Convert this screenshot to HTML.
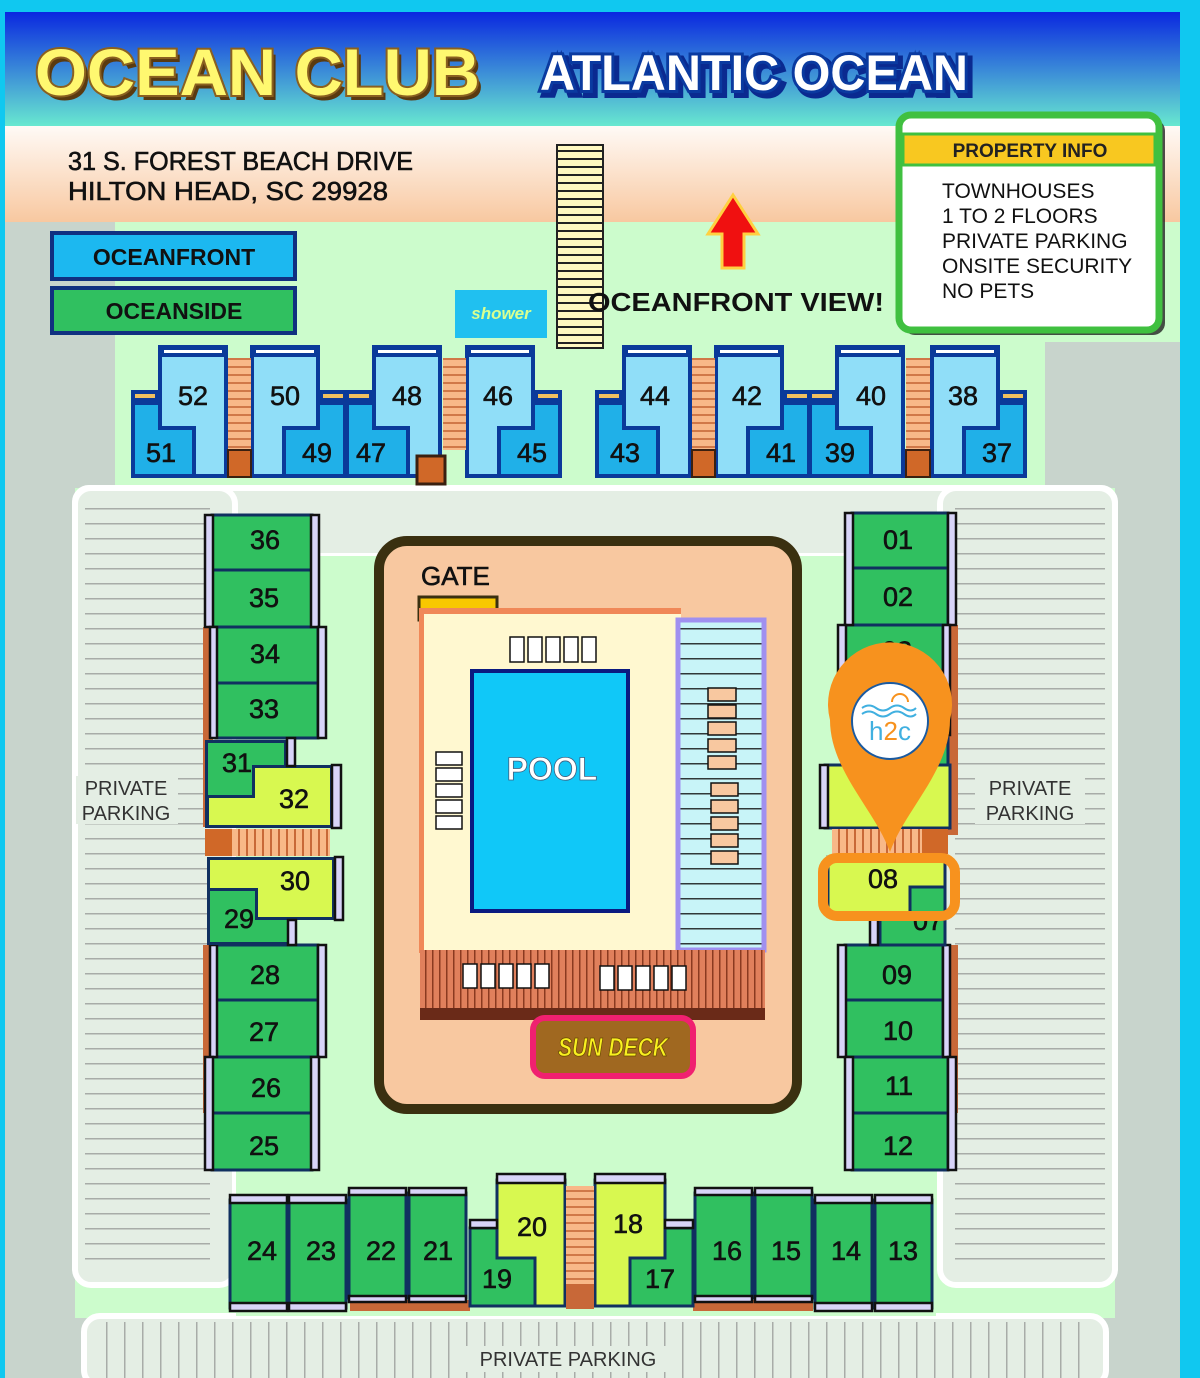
<!DOCTYPE html>
<html><head><meta charset="utf-8">
<style>
html,body{margin:0;padding:0;background:#10c8f0;}
svg{display:block}
text{font-family:"Liberation Sans",sans-serif;}
.n{font-size:27px;fill:#111;text-anchor:middle;stroke:#111;stroke-width:.6}
</style></head><body>
<svg width="1200" height="1378" viewBox="0 0 1200 1378" xmlns="http://www.w3.org/2000/svg">
<defs>
<linearGradient id="hdr" x1="0" y1="0" x2="0" y2="1"><stop offset="0" stop-color="#0a28e0"/><stop offset="1" stop-color="#68e8d0"/></linearGradient>
<linearGradient id="peach" x1="0" y1="0" x2="0" y2="1"><stop offset="0" stop-color="#fffaf6"/><stop offset="1" stop-color="#f8c8a0"/></linearGradient>
<pattern id="stH" width="10" height="8" patternUnits="userSpaceOnUse"><rect width="10" height="8" fill="#f8b888"/><rect y="6" width="10" height="2" fill="#d07848"/></pattern>
<pattern id="stV" width="8" height="10" patternUnits="userSpaceOnUse"><rect width="8" height="10" fill="#f8b888"/><rect x="6" width="2" height="10" fill="#c86838"/></pattern>
<pattern id="deck" width="7" height="10" patternUnits="userSpaceOnUse"><rect width="7" height="10" fill="#e0805c"/><rect x="5" width="1.5" height="10" fill="#8a3a20"/></pattern>
<pattern id="pkH" width="10" height="15" patternUnits="userSpaceOnUse"><rect width="10" height="15" fill="#e4eee4"/><rect y="13" width="10" height="1.5" fill="#a8aca8"/></pattern>
<pattern id="pkV" width="18" height="10" patternUnits="userSpaceOnUse"><rect width="18" height="10" fill="#e4eee4"/><rect x="16" width="1.5" height="10" fill="#a8aca8"/></pattern>
<pattern id="lng" width="10" height="15" patternUnits="userSpaceOnUse"><rect width="10" height="15" fill="#c8f4f8"/><rect y="13" width="10" height="1.5" fill="#303838"/></pattern>
<pattern id="brd" width="10" height="8" patternUnits="userSpaceOnUse"><rect width="10" height="8" fill="#fff8c0"/><rect y="6" width="10" height="2" fill="#222"/></pattern>
</defs>

<!-- background -->
<rect x="0" y="0" width="1200" height="1378" fill="#10c8f0"/>
<rect x="5" y="12" width="1175" height="1366" fill="#c8d4cc"/>
<rect x="5" y="12" width="1175" height="114" fill="url(#hdr)"/>
<rect x="5" y="126" width="1175" height="96" fill="url(#peach)"/>
<rect x="115" y="222" width="1065" height="120" fill="#ccfccc"/>
<rect x="115" y="340" width="930" height="150" fill="#ccfccc"/>
<rect x="75" y="488" width="1040" height="830" fill="#ccfccc"/>

<!-- header text -->
<text x="39" y="100" font-size="66" font-weight="bold" fill="#5a3a10" textLength="445" lengthAdjust="spacingAndGlyphs">OCEAN CLUB</text>
<text x="35" y="95" font-size="66" font-weight="bold" fill="#fff870" stroke="#8a6020" stroke-width="4" paint-order="stroke" textLength="445" lengthAdjust="spacingAndGlyphs">OCEAN CLUB</text>
<text x="544" y="94" font-size="50" font-weight="bold" fill="#0a2a90" stroke="#0a2a90" stroke-width="8" textLength="428" lengthAdjust="spacingAndGlyphs">ATLANTIC OCEAN</text>
<text x="540" y="90" font-size="50" font-weight="bold" fill="#fff" stroke="#0a3aa0" stroke-width="6" paint-order="stroke" textLength="428" lengthAdjust="spacingAndGlyphs">ATLANTIC OCEAN</text>

<!-- address -->
<text x="68" y="170" font-size="26" fill="#111" stroke="#111" stroke-width=".6" textLength="345" lengthAdjust="spacingAndGlyphs">31 S. FOREST BEACH DRIVE</text>
<text x="68" y="200" font-size="26" fill="#111" stroke="#111" stroke-width=".6" textLength="320" lengthAdjust="spacingAndGlyphs">HILTON HEAD, SC  29928</text>

<!-- legend -->
<rect x="52" y="233" width="243" height="46" fill="#1cb8f0" stroke="#103080" stroke-width="4"/>
<text x="174" y="265" font-size="23" font-weight="bold" text-anchor="middle" fill="#111">OCEANFRONT</text>
<rect x="52" y="288" width="243" height="45" fill="#30c060" stroke="#103080" stroke-width="4"/>
<text x="174" y="319" font-size="23" font-weight="bold" text-anchor="middle" fill="#111">OCEANSIDE</text>

<!-- shower -->
<rect x="455" y="290" width="92" height="48" fill="#20c0f0"/>
<text x="501" y="319" font-size="17" font-style="italic" font-weight="bold" text-anchor="middle" fill="#d8ff90">shower</text>

<!-- boardwalk -->
<rect x="557" y="145" width="46" height="203" fill="url(#brd)" stroke="#222" stroke-width="2"/>

<!-- arrow -->
<path d="M733,195 L758,234 L744,234 L744,268 L722,268 L722,234 L708,234 Z" fill="#f01010" stroke="#ffd040" stroke-width="3"/>
<text x="588" y="311" font-size="26" font-weight="bold" fill="#111" textLength="296" lengthAdjust="spacingAndGlyphs">OCEANFRONT VIEW!</text>

<!-- property info -->
<rect x="903" y="119" width="262" height="216" rx="12" fill="#222" opacity=".8"/>
<rect x="899" y="115" width="260" height="215" rx="12" fill="#fff" stroke="#40c040" stroke-width="7"/>
<rect x="903" y="134" width="252" height="31" fill="#f8c820" stroke="#40c040" stroke-width="3"/>
<text x="1030" y="157" font-size="19" font-weight="bold" text-anchor="middle" fill="#222">PROPERTY INFO</text>
<g font-size="21" fill="#111">
<text x="942" y="198">TOWNHOUSES</text>
<text x="942" y="223">1 TO 2 FLOORS</text>
<text x="942" y="248">PRIVATE PARKING</text>
<text x="942" y="273">ONSITE SECURITY</text>
<text x="942" y="298">NO PETS</text>
</g>

<!-- road band & parking -->
<rect x="75" y="488" width="1040" height="68" rx="14" fill="#e4eee4" stroke="#fff" stroke-width="6"/>
<rect x="75" y="488" width="160" height="797" rx="16" fill="#e4eee4" stroke="#fff" stroke-width="6"/>
<rect x="85" y="500" width="125" height="770" fill="url(#pkH)"/>
<rect x="940" y="488" width="175" height="797" rx="16" fill="#e4eee4" stroke="#fff" stroke-width="6"/>
<rect x="955" y="500" width="150" height="770" fill="url(#pkH)"/>
<rect x="84" y="1316" width="1022" height="70" rx="16" fill="#e4eee4" stroke="#fff" stroke-width="6"/>
<rect x="95" y="1322" width="1000" height="60" fill="url(#pkV)"/>
<g font-size="20" fill="#333">
<text x="126" y="795" text-anchor="middle" fill="#333">PRIVATE</text>
<text x="126" y="820" text-anchor="middle">PARKING</text>
<rect x="975" y="776" width="110" height="48" fill="#e4eee4"/>
<rect x="76" y="776" width="102" height="48" fill="#e4eee4"/>
<text x="126" y="795" text-anchor="middle">PRIVATE</text>
<text x="126" y="820" text-anchor="middle">PARKING</text>
<text x="1030" y="795" text-anchor="middle">PRIVATE</text>
<text x="1030" y="820" text-anchor="middle">PARKING</text>
<rect x="462" y="1346" width="212" height="26" fill="#e4eee4"/>
<text x="568" y="1366" text-anchor="middle">PRIVATE PARKING</text>
</g>
<rect x="75" y="555" width="1040" height="0" fill="none"/>
<rect x="236" y="556" width="700" height="760" fill="#ccfccc"/>

<!-- top oceanfront units -->
<!-- A-block template inline -->
<g transform="translate(131,345)">
<path d="M0,45H27V0H97V133H0Z" fill="#0a3a9a"/><path d="M31,12H93V129H65V81H31Z" fill="#90def8"/><path d="M4,60H27V85H61V129H4Z" fill="#20b0e8"/>
<rect x="4" y="49" width="20" height="4" fill="#f0c060"/><rect x="33" y="5" width="58" height="3" fill="#fff"/>
<text class="n" x="62" y="60">52</text><text class="n" x="30" y="117">51</text></g>
<g transform="translate(250,345)">
<path d="M97,45H70V0H0V133H97Z" fill="#0a3a9a"/><path d="M66,12H4V129H32V81H66Z" fill="#90def8"/><path d="M93,60H70V85H36V129H93Z" fill="#20b0e8"/>
<rect x="73" y="49" width="20" height="4" fill="#f0c060"/><rect x="6" y="5" width="58" height="3" fill="#fff"/>
<text class="n" x="35" y="60">50</text><text class="n" x="67" y="117">49</text></g>
<g transform="translate(345,345)">
<path d="M0,45H27V0H97V133H0Z" fill="#0a3a9a"/><path d="M31,12H93V129H65V81H31Z" fill="#90def8"/><path d="M4,60H27V85H61V129H4Z" fill="#20b0e8"/>
<rect x="4" y="49" width="20" height="4" fill="#f0c060"/><rect x="33" y="5" width="58" height="3" fill="#fff"/>
<text class="n" x="62" y="60">48</text><text class="n" x="26" y="117">47</text></g>
<g transform="translate(465,345)">
<path d="M97,45H70V0H0V133H97Z" fill="#0a3a9a"/><path d="M66,12H4V129H32V81H66Z" fill="#90def8"/><path d="M93,60H70V85H36V129H93Z" fill="#20b0e8"/>
<rect x="73" y="49" width="20" height="4" fill="#f0c060"/><rect x="6" y="5" width="58" height="3" fill="#fff"/>
<text class="n" x="33" y="60">46</text><text class="n" x="67" y="117">45</text></g>
<g transform="translate(595,345)">
<path d="M0,45H27V0H97V133H0Z" fill="#0a3a9a"/><path d="M31,12H93V129H65V81H31Z" fill="#90def8"/><path d="M4,60H27V85H61V129H4Z" fill="#20b0e8"/>
<rect x="4" y="49" width="20" height="4" fill="#f0c060"/><rect x="33" y="5" width="58" height="3" fill="#fff"/>
<text class="n" x="60" y="60">44</text><text class="n" x="30" y="117">43</text></g>
<g transform="translate(714,345)">
<path d="M97,45H70V0H0V133H97Z" fill="#0a3a9a"/><path d="M66,12H4V129H32V81H66Z" fill="#90def8"/><path d="M93,60H70V85H36V129H93Z" fill="#20b0e8"/>
<rect x="73" y="49" width="20" height="4" fill="#f0c060"/><rect x="6" y="5" width="58" height="3" fill="#fff"/>
<text class="n" x="33" y="60">42</text><text class="n" x="67" y="117">41</text></g>
<g transform="translate(808,345)">
<path d="M0,45H27V0H97V133H0Z" fill="#0a3a9a"/><path d="M31,12H93V129H65V81H31Z" fill="#90def8"/><path d="M4,60H27V85H61V129H4Z" fill="#20b0e8"/>
<rect x="4" y="49" width="20" height="4" fill="#f0c060"/><rect x="33" y="5" width="58" height="3" fill="#fff"/>
<text class="n" x="63" y="60">40</text><text class="n" x="32" y="117">39</text></g>
<g transform="translate(930,345)">
<path d="M97,45H70V0H0V133H97Z" fill="#0a3a9a"/><path d="M66,12H4V129H32V81H66Z" fill="#90def8"/><path d="M93,60H70V85H36V129H93Z" fill="#20b0e8"/>
<rect x="73" y="49" width="20" height="4" fill="#f0c060"/><rect x="6" y="5" width="58" height="3" fill="#fff"/>
<text class="n" x="33" y="60">38</text><text class="n" x="67" y="117">37</text></g>
<!-- top stairs -->
<rect x="228" y="358" width="23" height="92" fill="url(#stH)"/><rect x="228" y="450" width="23" height="27" fill="#d06828" stroke="#3a2010" stroke-width="2"/>
<rect x="443" y="358" width="23" height="92" fill="url(#stH)"/><rect x="417" y="456" width="28" height="28" fill="#d06828" stroke="#3a2010" stroke-width="3"/>
<rect x="692" y="358" width="23" height="92" fill="url(#stH)"/><rect x="692" y="450" width="23" height="27" fill="#d06828" stroke="#3a2010" stroke-width="2"/>
<rect x="906" y="358" width="24" height="92" fill="url(#stH)"/><rect x="906" y="450" width="24" height="27" fill="#d06828" stroke="#3a2010" stroke-width="2"/>

<!-- left column units -->
<rect x="203" y="627" width="10" height="200" fill="#c86838"/>
<rect x="203" y="945" width="10" height="168" fill="#c86838"/>
<g stroke="#103060" stroke-width="3">
<rect x="212" y="515" width="100" height="55" fill="#30c060"/><rect x="212" y="570" width="100" height="57" fill="#30c060"/>
<rect x="216" y="627" width="102" height="56" fill="#30c060"/><rect x="216" y="683" width="102" height="55" fill="#30c060"/>
<rect x="216" y="945" width="102" height="55" fill="#30c060"/><rect x="216" y="1000" width="102" height="57" fill="#30c060"/>
<rect x="212" y="1057" width="100" height="56" fill="#30c060"/><rect x="212" y="1113" width="100" height="57" fill="#30c060"/>
</g>
<g fill="#d8d4f8" stroke="#111" stroke-width="2.5">
<rect x="205" y="515" width="8" height="112"/><rect x="311" y="515" width="8" height="112"/>
<rect x="210" y="627" width="7" height="111"/><rect x="318" y="627" width="8" height="111"/>
<rect x="210" y="945" width="7" height="112"/><rect x="318" y="945" width="8" height="112"/>
<rect x="205" y="1057" width="8" height="113"/><rect x="311" y="1057" width="8" height="113"/>
</g>
<g class="n"><text class="n" x="265" y="549">36</text><text class="n" x="264" y="607">35</text><text class="n" x="265" y="663">34</text><text class="n" x="264" y="718">33</text>
<text class="n" x="265" y="984">28</text><text class="n" x="264" y="1041">27</text><text class="n" x="266" y="1097">26</text><text class="n" x="264" y="1155">25</text></g>
<!-- 31/32 -->
<path d="M205,740H287V765H333V828H205Z" fill="#103060"/>
<path d="M233,768H330V825H209V798H255V768Z" fill="#d8f850"/>
<path d="M208,743H284V765H252V795H208Z" fill="#30c060"/>
<rect x="287" y="738" width="8" height="28" fill="#d8d4f8" stroke="#111" stroke-width="2.5"/>
<rect x="332" y="765" width="9" height="63" fill="#d8d4f8" stroke="#111" stroke-width="2.5"/>
<text class="n" x="237" y="772">31</text><text class="n" x="294" y="808">32</text>
<rect x="205" y="829" width="27" height="27" fill="#d06828"/><rect x="232" y="829" width="98" height="27" fill="url(#stV)"/>
<!-- 30/29 -->
<path d="M207,857H335V920H297V945H207Z" fill="#103060"/>
<path d="M210,860H332V917H258V888H210Z" fill="#d8f850"/>
<path d="M210,891H255V920H294V942H210Z" fill="#30c060"/>
<rect x="335" y="857" width="8" height="63" fill="#d8d4f8" stroke="#111" stroke-width="2.5"/>
<rect x="288" y="920" width="8" height="25" fill="#d8d4f8" stroke="#111" stroke-width="2.5"/>
<text class="n" x="295" y="890">30</text><text class="n" x="239" y="928">29</text>

<!-- right column units -->
<rect x="948" y="625" width="10" height="210" fill="#c86838"/>
<rect x="948" y="945" width="10" height="168" fill="#c86838"/>
<g stroke="#103060" stroke-width="3">
<rect x="852" y="513" width="96" height="55" fill="#30c060"/><rect x="852" y="568" width="96" height="57" fill="#30c060"/>
<rect x="845" y="625" width="98" height="55" fill="#30c060"/><rect x="845" y="680" width="98" height="55" fill="#30c060"/>
<rect x="870" y="735" width="78" height="30" fill="#30c060"/>
<rect x="845" y="945" width="98" height="55" fill="#30c060"/><rect x="845" y="1000" width="98" height="57" fill="#30c060"/>
<rect x="852" y="1057" width="96" height="56" fill="#30c060"/><rect x="852" y="1113" width="96" height="57" fill="#30c060"/>
</g>
<g fill="#d8d4f8" stroke="#111" stroke-width="2.5">
<rect x="845" y="513" width="8" height="112"/><rect x="948" y="513" width="8" height="112"/>
<rect x="838" y="625" width="8" height="110"/><rect x="943" y="625" width="7" height="110"/>
<rect x="838" y="945" width="8" height="112"/><rect x="943" y="945" width="7" height="112"/>
<rect x="845" y="1057" width="8" height="113"/><rect x="948" y="1057" width="8" height="113"/>
</g>
<text class="n" x="898" y="549">01</text><text class="n" x="898" y="606">02</text><text class="n" x="897" y="660">03</text>
<text class="n" x="897" y="984">09</text><text class="n" x="898" y="1040">10</text><text class="n" x="899" y="1095">11</text><text class="n" x="898" y="1155">12</text>
<!-- 05/06 -->
<rect x="825" y="765" width="125" height="63" fill="#d8f850" stroke="#103060" stroke-width="3"/>
<rect x="820" y="765" width="8" height="63" fill="#d8d4f8" stroke="#111" stroke-width="2.5"/>
<rect x="832" y="829" width="90" height="25" fill="url(#stV)"/><rect x="922" y="829" width="26" height="25" fill="#d06828"/>
<!-- 08/07 -->
<rect x="828" y="857" width="117" height="58" fill="#d8f850" stroke="#103060" stroke-width="3"/>
<path d="M910,887H945V945H880V915H910Z" fill="#30c060" stroke="#103060" stroke-width="3"/>
<rect x="870" y="915" width="8" height="30" fill="#d8d4f8" stroke="#111" stroke-width="2.5"/>
<text class="n" x="883" y="888">08</text><text class="n" x="928" y="930">07</text>

<!-- pool complex -->
<rect x="379" y="541" width="418" height="568" rx="28" fill="#f8c8a0" stroke="#3a3010" stroke-width="10"/>
<text x="421" y="585" font-size="26" fill="#111" stroke="#111" stroke-width=".6">GATE</text>
<rect x="419" y="597" width="78" height="23" fill="#f8c800" stroke="#3a3010" stroke-width="3"/>
<rect x="419" y="608" width="262" height="345" fill="#f08858"/>
<rect x="424" y="614" width="257" height="339" fill="#fff8d0"/>
<rect x="678" y="620" width="86" height="330" fill="url(#lng)" stroke="#a090f0" stroke-width="5"/>
<rect x="472" y="671" width="156" height="240" fill="#10c8f8" stroke="#0a1a80" stroke-width="4"/>
<text x="552" y="780" font-size="32" font-weight="bold" text-anchor="middle" fill="#fff" stroke="#406080" stroke-width=".8">POOL</text>
<g fill="#fff" stroke="#111" stroke-width="1.5">
<rect x="510" y="637" width="14" height="25"/><rect x="528" y="637" width="14" height="25"/><rect x="546" y="637" width="14" height="25"/><rect x="564" y="637" width="14" height="25"/><rect x="582" y="637" width="14" height="25"/>
<rect x="436" y="752" width="26" height="13"/><rect x="436" y="768" width="26" height="13"/><rect x="436" y="784" width="26" height="13"/><rect x="436" y="800" width="26" height="13"/><rect x="436" y="816" width="26" height="13"/>
</g>
<g fill="#f8c8a0" stroke="#111" stroke-width="1.5">
<rect x="708" y="688" width="28" height="13"/><rect x="708" y="705" width="28" height="13"/><rect x="708" y="722" width="28" height="13"/><rect x="708" y="739" width="28" height="13"/><rect x="708" y="756" width="28" height="13"/>
<rect x="711" y="783" width="27" height="13"/><rect x="711" y="800" width="27" height="13"/><rect x="711" y="817" width="27" height="13"/><rect x="711" y="834" width="27" height="13"/><rect x="711" y="851" width="27" height="13"/>
</g>
<rect x="420" y="950" width="345" height="60" fill="url(#deck)"/>
<rect x="420" y="1008" width="345" height="12" fill="#6a2a18"/>
<g fill="#fff" stroke="#111" stroke-width="1.5">
<rect x="463" y="964" width="14" height="24"/><rect x="481" y="964" width="14" height="24"/><rect x="499" y="964" width="14" height="24"/><rect x="517" y="964" width="14" height="24"/><rect x="535" y="964" width="14" height="24"/>
<rect x="600" y="966" width="14" height="24"/><rect x="618" y="966" width="14" height="24"/><rect x="636" y="966" width="14" height="24"/><rect x="654" y="966" width="14" height="24"/><rect x="672" y="966" width="14" height="24"/>
</g>
<rect x="533" y="1018" width="160" height="58" rx="12" fill="#a06820" stroke="#f02070" stroke-width="6"/>
<text x="613" y="1056" font-size="26" font-weight="bold" font-style="italic" text-anchor="middle" fill="#f8f020" stroke="#6a4a00" stroke-width=".8" textLength="110" lengthAdjust="spacingAndGlyphs">SUN DECK</text>

<!-- bottom row -->
<rect x="350" y="1300" width="120" height="11" fill="#c86838"/><rect x="693" y="1300" width="120" height="11" fill="#c86838"/>
<g stroke="#103060" stroke-width="3" fill="#30c060">
<rect x="230" y="1200" width="57" height="108"/><rect x="289" y="1200" width="57" height="108"/>
<rect x="349" y="1193" width="57" height="105"/><rect x="409" y="1193" width="57" height="105"/>
<rect x="470" y="1228" width="65" height="78"/><rect x="630" y="1228" width="63" height="78"/>
<rect x="695" y="1193" width="57" height="105"/><rect x="755" y="1193" width="57" height="105"/>
<rect x="815" y="1200" width="57" height="108"/><rect x="875" y="1200" width="57" height="108"/>
</g>
<path d="M497,1180H565V1306H535V1258H497Z" fill="#d8f850" stroke="#103060" stroke-width="3"/>
<path d="M595,1180H665V1258H630V1306H595Z" fill="#d8f850" stroke="#103060" stroke-width="3"/>
<rect x="566" y="1186" width="28" height="100" fill="url(#stH)"/><rect x="566" y="1284" width="28" height="25" fill="#c86838"/>
<g fill="#d8d4f8" stroke="#111" stroke-width="2.5">
<rect x="230" y="1195" width="57" height="8"/><rect x="289" y="1195" width="57" height="8"/>
<rect x="349" y="1188" width="57" height="7"/><rect x="409" y="1188" width="57" height="7"/>
<rect x="230" y="1303" width="57" height="8"/><rect x="289" y="1303" width="57" height="8"/>
<rect x="349" y="1296" width="57" height="6"/><rect x="409" y="1296" width="57" height="6"/>
<rect x="470" y="1220" width="27" height="8"/><rect x="497" y="1174" width="68" height="9"/>
<rect x="595" y="1174" width="70" height="9"/><rect x="665" y="1220" width="28" height="8"/>
<rect x="695" y="1188" width="57" height="7"/><rect x="755" y="1188" width="57" height="7"/>
<rect x="815" y="1195" width="57" height="8"/><rect x="875" y="1195" width="57" height="8"/>
<rect x="695" y="1296" width="57" height="6"/><rect x="755" y="1296" width="57" height="6"/>
<rect x="815" y="1303" width="57" height="8"/><rect x="875" y="1303" width="57" height="8"/>
</g>
<text class="n" x="262" y="1260">24</text><text class="n" x="321" y="1260">23</text><text class="n" x="381" y="1260">22</text><text class="n" x="438" y="1260">21</text>
<text class="n" x="497" y="1288">19</text><text class="n" x="532" y="1236">20</text><text class="n" x="628" y="1233">18</text><text class="n" x="660" y="1288">17</text>
<text class="n" x="727" y="1260">16</text><text class="n" x="786" y="1260">15</text><text class="n" x="846" y="1260">14</text><text class="n" x="903" y="1260">13</text>

<!-- pin -->
<rect x="823" y="858" width="132" height="58" rx="14" fill="none" stroke="#f7921e" stroke-width="10"/>
<path d="M890,852 C875,810 830,770 830,720 A62,62 0 1 1 950,720 C950,770 905,810 890,852Z" fill="#f7921e"/>
<circle cx="890" cy="721" r="38" fill="#fff" stroke="#1a5aa0" stroke-width="2"/>
<path d="M862,708 q7,-5 14,0 t14,0 t14,0 t12,0" fill="none" stroke="#40b0e0" stroke-width="2"/>
<path d="M862,714 q7,-5 14,0 t14,0 t14,0 t12,0" fill="none" stroke="#40b0e0" stroke-width="2"/>
<path d="M892,702 a8,8 0 0 1 16,0" fill="none" stroke="#f7921e" stroke-width="2"/>
<text x="890" y="740" font-size="26" text-anchor="middle" fill="#40b0e0">h<tspan fill="#f7921e">2</tspan>c</text>
</svg>
</body></html>
